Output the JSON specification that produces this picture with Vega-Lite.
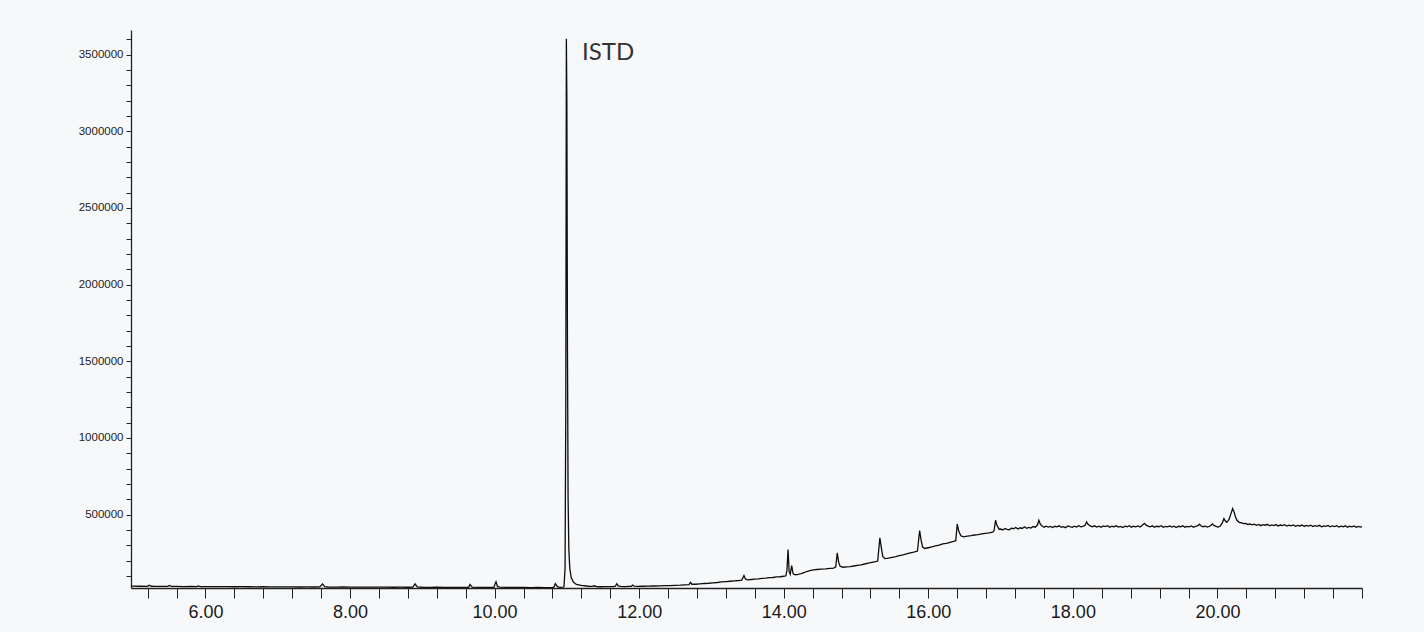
{
  "$schema": "https://vega.github.io/schema/vega-lite/v6.json",
  "autosize": {"type": "none"},
  "padding": {"left": 131, "top": 30, "right": 62, "bottom": 44},
  "width": 1231,
  "height": 558,
  "background": "#f7f8fa",
  "config": {"view": {"stroke": null}},
  "datasets": {
    "trace": [
      {"t":4.97,"v":34000},{"t":5.0,"v":33500},{"t":5.1,"v":33000},{"t":5.2,"v":32500},{"t":5.22,"v":40000},{"t":5.25,"v":33000},
      {"t":5.3,"v":32000},{"t":5.4,"v":32500},{"t":5.48,"v":32000},{"t":5.5,"v":38000},{"t":5.53,"v":32000},{"t":5.6,"v":31500},
      {"t":5.7,"v":31000},{"t":5.8,"v":31500},{"t":5.88,"v":31000},{"t":5.9,"v":35000},{"t":5.93,"v":31000},{"t":6.0,"v":30500},
      {"t":6.1,"v":30000},{"t":6.2,"v":30500},{"t":6.3,"v":30000},{"t":6.4,"v":29500},{"t":6.5,"v":30000},{"t":6.6,"v":29500},
      {"t":6.7,"v":29000},{"t":6.8,"v":29500},{"t":6.9,"v":29000},{"t":7.0,"v":28500},{"t":7.1,"v":29000},{"t":7.2,"v":28500},
      {"t":7.3,"v":28000},{"t":7.4,"v":28500},{"t":7.5,"v":28000},{"t":7.58,"v":28500},{"t":7.62,"v":48000},{"t":7.65,"v":30000},
      {"t":7.7,"v":28000},{"t":7.8,"v":27500},{"t":7.9,"v":28000},{"t":8.0,"v":27500},{"t":8.1,"v":27000},{"t":8.2,"v":27500},
      {"t":8.3,"v":27000},{"t":8.4,"v":27500},{"t":8.5,"v":27000},{"t":8.6,"v":26500},{"t":8.7,"v":27000},{"t":8.8,"v":26500},
      {"t":8.87,"v":27000},{"t":8.9,"v":48000},{"t":8.93,"v":29000},{"t":9.0,"v":26500},{"t":9.1,"v":26000},{"t":9.2,"v":26500},
      {"t":9.3,"v":26000},{"t":9.4,"v":25500},{"t":9.5,"v":26000},{"t":9.6,"v":25500},{"t":9.64,"v":26000},{"t":9.66,"v":45000},
      {"t":9.69,"v":27000},{"t":9.8,"v":25500},{"t":9.9,"v":25000},{"t":9.99,"v":25500},{"t":10.01,"v":52000},{"t":10.02,"v":62000},
      {"t":10.04,"v":32000},{"t":10.07,"v":27000},{"t":10.2,"v":25000},{"t":10.3,"v":25500},{"t":10.4,"v":25000},{"t":10.5,"v":24500},
      {"t":10.6,"v":25000},{"t":10.7,"v":24500},{"t":10.8,"v":25000},{"t":10.82,"v":27000},{"t":10.84,"v":50000},{"t":10.87,"v":30000},
      {"t":10.9,"v":26000},{"t":10.95,"v":27000},{"t":10.96,"v":30000},{"t":10.975,"v":150000},{"t":10.985,"v":1200000},
      {"t":10.993,"v":3603000},{"t":11.0,"v":3200000},{"t":11.008,"v":1600000},{"t":11.017,"v":600000},{"t":11.027,"v":280000},
      {"t":11.04,"v":150000},{"t":11.06,"v":90000},{"t":11.09,"v":60000},{"t":11.13,"v":45000},{"t":11.2,"v":38000},
      {"t":11.3,"v":33000},{"t":11.35,"v":31500},{"t":11.38,"v":36000},{"t":11.41,"v":31000},{"t":11.46,"v":29500},{"t":11.52,"v":30500},
      {"t":11.58,"v":30000},{"t":11.64,"v":31000},{"t":11.67,"v":33000},{"t":11.69,"v":49000},{"t":11.71,"v":35000},{"t":11.74,"v":31500},
      {"t":11.8,"v":31000},{"t":11.86,"v":32500},{"t":11.89,"v":33000},{"t":11.91,"v":41000},{"t":11.93,"v":33500},{"t":11.98,"v":32000},
      {"t":12.05,"v":33000},{"t":12.12,"v":33500},{"t":12.2,"v":34500},{"t":12.28,"v":35000},{"t":12.35,"v":36500},{"t":12.42,"v":37500},
      {"t":12.5,"v":39000},{"t":12.57,"v":40000},{"t":12.64,"v":42000},{"t":12.69,"v":43500},{"t":12.71,"v":58000},{"t":12.73,"v":46000},
      {"t":12.78,"v":46000},{"t":12.84,"v":48500},{"t":12.9,"v":51000},{"t":12.96,"v":52500},{"t":13.02,"v":55500},{"t":13.08,"v":57500},
      {"t":13.14,"v":61000},{"t":13.2,"v":63000},{"t":13.26,"v":65500},{"t":13.32,"v":68500},{"t":13.38,"v":70500},{"t":13.42,"v":73000},
      {"t":13.45,"v":103000},{"t":13.47,"v":80000},{"t":13.5,"v":74500},{"t":13.55,"v":77000},{"t":13.6,"v":79500},{"t":13.65,"v":81000},
      {"t":13.7,"v":84000},{"t":13.75,"v":85500},{"t":13.8,"v":88500},{"t":13.85,"v":90000},{"t":13.9,"v":93500},{"t":13.95,"v":95000},
      {"t":14.0,"v":98000},{"t":14.03,"v":101000},{"t":14.045,"v":140000},{"t":14.06,"v":272000},{"t":14.075,"v":128000},
      {"t":14.09,"v":110000},{"t":14.11,"v":168000},{"t":14.13,"v":114000},{"t":14.16,"v":108000},{"t":14.2,"v":111000},
      {"t":14.24,"v":115000},{"t":14.28,"v":122000},{"t":14.32,"v":129000},{"t":14.36,"v":135000},{"t":14.41,"v":140000},
      {"t":14.46,"v":142000},{"t":14.52,"v":145000},{"t":14.58,"v":146000},{"t":14.64,"v":149000},{"t":14.69,"v":151000},
      {"t":14.72,"v":160000},{"t":14.74,"v":250000},{"t":14.76,"v":190000},{"t":14.78,"v":163000},{"t":14.82,"v":157000},
      {"t":14.87,"v":159000},{"t":14.92,"v":161000},{"t":14.97,"v":165000},{"t":15.02,"v":169000},{"t":15.07,"v":173000},
      {"t":15.12,"v":178000},{"t":15.17,"v":183000},{"t":15.22,"v":188000},{"t":15.27,"v":193000},{"t":15.3,"v":197000},
      {"t":15.33,"v":348000},{"t":15.35,"v":285000},{"t":15.37,"v":228000},{"t":15.4,"v":213000},{"t":15.45,"v":216000},
      {"t":15.5,"v":221000},{"t":15.55,"v":226000},{"t":15.6,"v":233000},{"t":15.65,"v":238000},{"t":15.7,"v":244000},
      {"t":15.75,"v":250000},{"t":15.8,"v":255000},{"t":15.85,"v":262000},{"t":15.88,"v":396000},{"t":15.9,"v":335000},
      {"t":15.92,"v":290000},{"t":15.95,"v":279000},{"t":16.0,"v":284000},{"t":16.05,"v":289000},{"t":16.1,"v":296000},
      {"t":16.15,"v":301000},{"t":16.2,"v":309000},{"t":16.25,"v":313000},{"t":16.3,"v":319000},{"t":16.35,"v":325000},
      {"t":16.38,"v":330000},{"t":16.4,"v":439000},{"t":16.42,"v":395000},{"t":16.45,"v":362000},{"t":16.49,"v":355000},
      {"t":16.54,"v":360000},{"t":16.59,"v":363000},{"t":16.64,"v":367000},{"t":16.69,"v":370000},{"t":16.74,"v":374000},
      {"t":16.79,"v":378000},{"t":16.84,"v":381000},{"t":16.89,"v":386000},{"t":16.91,"v":395000},{"t":16.93,"v":463000},
      {"t":16.95,"v":430000},{"t":16.98,"v":405000},
      {"t":17.0,"v":406000},{"t":17.03,"v":400000},{"t":17.06,"v":410000},{"t":17.09,"v":404000},{"t":17.12,"v":401000},
      {"t":17.15,"v":412000},{"t":17.18,"v":408000},{"t":17.21,"v":416000},{"t":17.24,"v":406000},{"t":17.27,"v":414000},
      {"t":17.3,"v":410000},{"t":17.33,"v":421000},{"t":17.36,"v":411000},{"t":17.39,"v":417000},{"t":17.42,"v":412000},
      {"t":17.45,"v":422000},{"t":17.48,"v":418000},{"t":17.51,"v":432000},{"t":17.53,"v":463000},{"t":17.55,"v":438000},
      {"t":17.57,"v":427000},{"t":17.6,"v":418000},{"t":17.63,"v":425000},{"t":17.66,"v":419000},{"t":17.69,"v":423000},
      {"t":17.72,"v":416000},{"t":17.75,"v":424000},{"t":17.78,"v":420000},{"t":17.81,"v":427000},{"t":17.84,"v":418000},
      {"t":17.87,"v":422000},{"t":17.9,"v":415000},{"t":17.93,"v":426000},{"t":17.96,"v":421000},{"t":17.99,"v":417000},
      {"t":18.02,"v":425000},{"t":18.05,"v":419000},{"t":18.08,"v":428000},{"t":18.11,"v":420000},{"t":18.14,"v":423000},
      {"t":18.17,"v":431000},{"t":18.19,"v":452000},{"t":18.21,"v":437000},{"t":18.24,"v":426000},{"t":18.27,"v":421000},
      {"t":18.3,"v":427000},{"t":18.33,"v":419000},{"t":18.36,"v":425000},{"t":18.39,"v":418000},{"t":18.42,"v":426000},
      {"t":18.45,"v":422000},{"t":18.48,"v":428000},{"t":18.51,"v":417000},{"t":18.54,"v":424000},{"t":18.57,"v":420000},
      {"t":18.6,"v":427000},{"t":18.63,"v":419000},{"t":18.66,"v":423000},{"t":18.69,"v":416000},{"t":18.72,"v":425000},
      {"t":18.75,"v":421000},{"t":18.78,"v":428000},{"t":18.81,"v":418000},{"t":18.84,"v":424000},{"t":18.87,"v":420000},
      {"t":18.9,"v":426000},{"t":18.93,"v":419000},{"t":18.96,"v":430000},{"t":18.99,"v":443000},{"t":19.01,"v":433000},
      {"t":19.04,"v":425000},{"t":19.07,"v":420000},{"t":19.1,"v":427000},{"t":19.13,"v":418000},{"t":19.16,"v":424000},
      {"t":19.19,"v":421000},{"t":19.22,"v":428000},{"t":19.25,"v":417000},{"t":19.28,"v":423000},{"t":19.31,"v":420000},
      {"t":19.34,"v":426000},{"t":19.37,"v":419000},{"t":19.4,"v":425000},{"t":19.43,"v":416000},{"t":19.46,"v":424000},
      {"t":19.49,"v":421000},{"t":19.52,"v":427000},{"t":19.55,"v":418000},{"t":19.58,"v":423000},{"t":19.61,"v":420000},
      {"t":19.64,"v":426000},{"t":19.67,"v":418000},{"t":19.7,"v":424000},{"t":19.73,"v":428000},{"t":19.75,"v":437000},
      {"t":19.77,"v":427000},{"t":19.8,"v":421000},{"t":19.83,"v":425000},{"t":19.86,"v":419000},{"t":19.89,"v":424000},
      {"t":19.91,"v":431000},{"t":19.93,"v":440000},{"t":19.95,"v":430000},{"t":19.98,"v":423000},{"t":20.01,"v":419000},
      {"t":20.04,"v":426000},{"t":20.07,"v":448000},{"t":20.09,"v":474000},{"t":20.11,"v":458000},{"t":20.13,"v":450000},
      {"t":20.16,"v":468000},{"t":20.19,"v":510000},{"t":20.21,"v":539000},{"t":20.23,"v":518000},{"t":20.25,"v":485000},
      {"t":20.27,"v":463000},{"t":20.3,"v":450000},{"t":20.33,"v":447000},{"t":20.36,"v":441000},{"t":20.39,"v":443000},
      {"t":20.42,"v":436000},{"t":20.45,"v":440000},{"t":20.48,"v":433000},{"t":20.51,"v":438000},{"t":20.54,"v":430000},
      {"t":20.57,"v":436000},{"t":20.6,"v":428000},{"t":20.63,"v":434000},{"t":20.66,"v":431000},{"t":20.69,"v":437000},
      {"t":20.72,"v":427000},{"t":20.75,"v":433000},{"t":20.78,"v":429000},{"t":20.81,"v":435000},{"t":20.84,"v":426000},
      {"t":20.87,"v":432000},{"t":20.9,"v":428000},{"t":20.93,"v":434000},{"t":20.96,"v":425000},{"t":20.99,"v":431000},
      {"t":21.02,"v":427000},{"t":21.05,"v":433000},{"t":21.08,"v":424000},{"t":21.11,"v":430000},{"t":21.14,"v":426000},
      {"t":21.17,"v":432000},{"t":21.2,"v":423000},{"t":21.23,"v":429000},{"t":21.26,"v":425000},{"t":21.29,"v":431000},
      {"t":21.32,"v":422000},{"t":21.35,"v":428000},{"t":21.38,"v":424000},{"t":21.41,"v":430000},{"t":21.44,"v":421000},
      {"t":21.47,"v":427000},{"t":21.5,"v":423000},{"t":21.53,"v":429000},{"t":21.56,"v":420000},{"t":21.59,"v":426000},
      {"t":21.62,"v":422000},{"t":21.65,"v":428000},{"t":21.68,"v":419000},{"t":21.71,"v":425000},{"t":21.74,"v":421000},
      {"t":21.77,"v":427000},{"t":21.8,"v":418000},{"t":21.83,"v":424000},{"t":21.86,"v":420000},{"t":21.89,"v":426000},
      {"t":21.92,"v":417000},{"t":21.95,"v":423000},{"t":21.98,"v":419000},{"t":22.0,"v":422000}
    ],
    "peaks": [
      {"t": 11.21, "v": 3465000, "name": "ISTD"}
    ]
  },
  "layer": [
    {
      "data": {"name": "trace"},
      "mark": {"type": "line", "color": "#0d0d0d", "strokeWidth": 1.3, "clip": true},
      "encoding": {
        "x": {
          "field": "t",
          "type": "quantitative",
          "scale": {"domain": [4.97, 22], "nice": false, "zero": false},
          "axis": {
            "title": null,
            "grid": false,
            "tickCount": 200,
            "values": [5.2,5.6,6,6.4,6.8,7.2,7.6,8,8.4,8.8,9.2,9.6,10,10.4,10.8,11.2,11.6,12,12.4,12.8,13.2,13.6,14,14.4,14.8,15.2,15.6,16,16.4,16.8,17.2,17.6,18,18.4,18.8,19.2,19.6,20,20.4,20.8,21.2,21.6,22],
            "labelExpr": "datum.value % 2 === 0 && datum.value < 21.5 ? format(datum.value, '.2f') : ''",
            "labelFont": "Liberation Sans",
            "labelFontSize": 18,
            "labelColor": "#1a1a1a",
            "labelPadding": 5,
            "labelFlush": false,
            "labelOverlap": false,
            "tickSize": 10,
            "tickColor": "#222222",
            "tickWidth": 1,
            "domainColor": "#222222",
            "domainWidth": 1.3,
            "encode": {"ticks": {"update": {"y2": {"signal": "datum.value % 2 === 0 ? 10 : 5"}}}}
          }
        },
        "y": {
          "field": "v",
          "type": "quantitative",
          "scale": {"domain": [21500, 3660000], "nice": false, "zero": false},
          "axis": {
            "title": null,
            "grid": false,
            "tickCount": 200,
            "values": [100000,200000,300000,400000,500000,600000,700000,800000,900000,1000000,1100000,1200000,1300000,1400000,1500000,1600000,1700000,1800000,1900000,2000000,2100000,2200000,2300000,2400000,2500000,2600000,2700000,2800000,2900000,3000000,3100000,3200000,3300000,3400000,3500000,3600000],
            "labelExpr": "datum.value % 500000 === 0 ? format(datum.value, 'd') : ''",
            "labelFont": "Liberation Sans",
            "labelFontSize": 11.5,
            "labelColor": "#222222",
            "labelPadding": 3,
            "labelOverlap": false,
            "tickSize": 5,
            "tickColor": "#222222",
            "tickWidth": 1,
            "domainColor": "#222222",
            "domainWidth": 1.3,
            "encode": {"ticks": {"update": {"x2": {"signal": "datum.value % 500000 === 0 ? -5 : -3"}}}}
          }
        }
      }
    },
    {
      "data": {"name": "peaks"},
      "mark": {"type": "text", "font": "Lato", "fontSize": 24, "color": "#333333", "align": "left", "baseline": "alphabetic"},
      "encoding": {
        "x": {"field": "t", "type": "quantitative"},
        "y": {"field": "v", "type": "quantitative"},
        "text": {"field": "name"}
      }
    }
  ]
}
